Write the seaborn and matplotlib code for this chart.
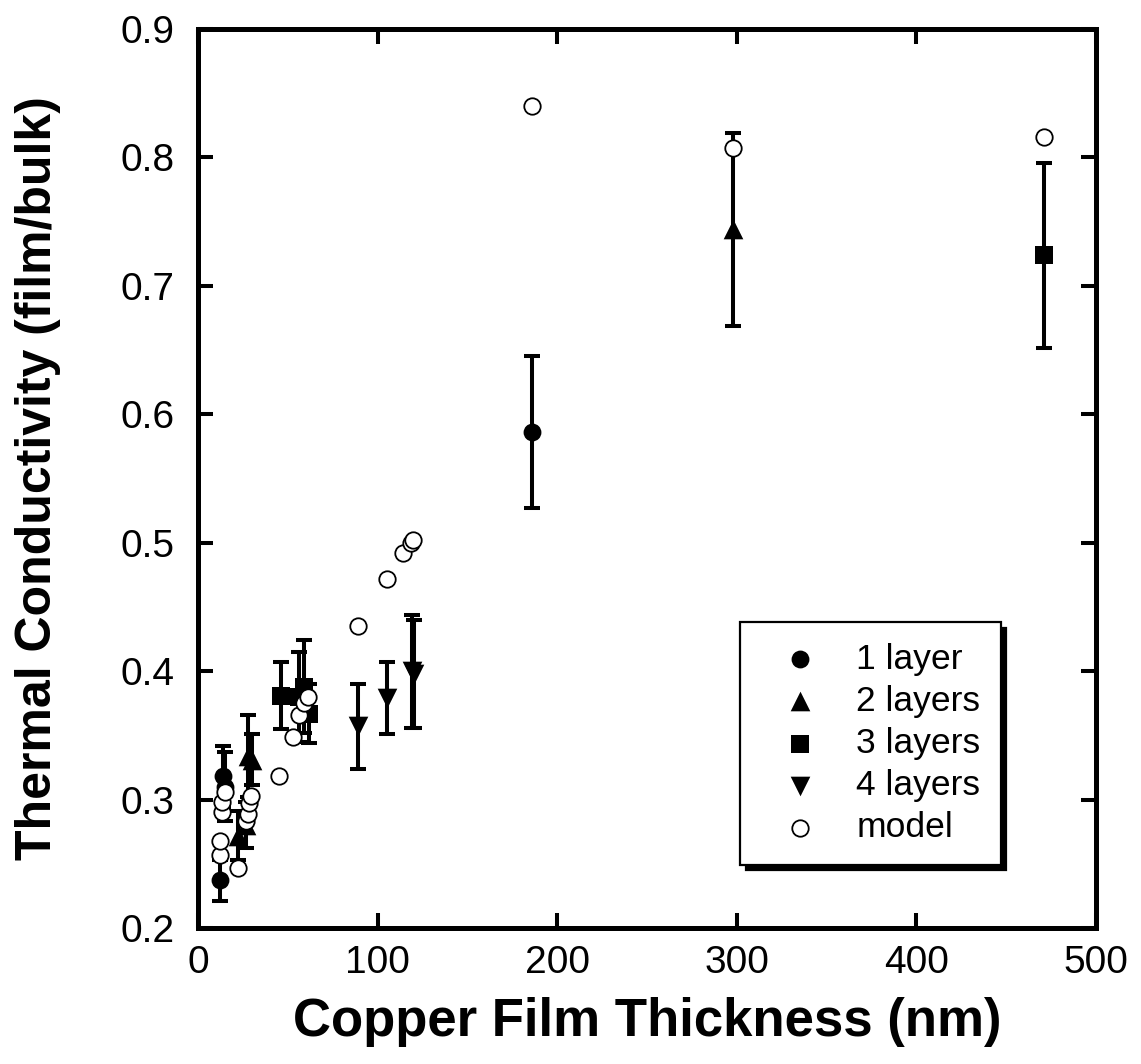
import matplotlib
matplotlib.use("Agg")
import matplotlib.pyplot as plt
import seaborn as sns
import pandas as pd

# Measured thermal conductivity (film/bulk) vs copper film thickness, with error bars
layer1_x = [12, 14, 15, 186]
layer1_y = [0.237, 0.318, 0.310, 0.586]
layer1_err = [0.016, 0.024, 0.027, 0.059]

layer2_x = [22, 27, 28, 30, 298]
layer2_y = [0.272, 0.280, 0.334, 0.331, 0.744]
layer2_err = [0.019, 0.018, 0.032, 0.020, 0.075]

layer3_x = [46, 56, 59, 62, 471]
layer3_y = [0.381, 0.380, 0.388, 0.367, 0.724]
layer3_err = [0.026, 0.035, 0.036, 0.023, 0.072]

layer4_x = [89, 105, 119, 120]
layer4_y = [0.357, 0.379, 0.400, 0.398]
layer4_err = [0.033, 0.028, 0.044, 0.042]

# Model predictions
model_x = [12, 12.5, 13.5, 13.5, 15, 22.5, 27, 27.7, 28.6, 29.5, 45, 53, 56, 59, 61,
           89, 105, 114, 118.5, 119.5, 186, 298, 471]
model_y = [0.257, 0.268, 0.290, 0.298, 0.306, 0.247, 0.283, 0.289, 0.297, 0.303, 0.318,
           0.349, 0.366, 0.375, 0.380, 0.435, 0.472, 0.492, 0.500, 0.502, 0.840, 0.807, 0.816]

x_ticks = [0, 100, 200, 300, 400, 500]
y_ticks = [0.2, 0.3, 0.4, 0.5, 0.6, 0.7, 0.8, 0.9]

sns.set_theme(style="ticks")
plt.rcParams["font.family"] = ["Liberation Sans", "DejaVu Sans"]
plt.rcParams["text.color"] = "black"
plt.rcParams["axes.labelcolor"] = "black"

fig = plt.figure(figsize=(11.41, 10.64), dpi=100)
ax = fig.add_axes([198 / 1141, 1 - 928 / 1064, 898 / 1141, 899 / 1064])

series = [
    ("1 layer", layer1_x, layer1_y, layer1_err, "o", 165),
    ("2 layers", layer2_x, layer2_y, layer2_err, "^", 200),
    ("3 layers", layer3_x, layer3_y, layer3_err, "s", 150),
    ("4 layers", layer4_x, layer4_y, layer4_err, "v", 200),
]

for label, xs, ys, es, mk, sz in series:
    ax.errorbar(xs, ys, yerr=es, fmt="none", ecolor="black", elinewidth=2.9,
                capsize=5.5, capthick=2.9, zorder=2)
    df = pd.DataFrame({"x": xs, "y": ys})
    sns.scatterplot(data=df, x="x", y="y", marker=mk, s=sz, color="black",
                    edgecolor="black", linewidth=0, label=label, ax=ax, zorder=3)

model_df = pd.DataFrame({"x": model_x, "y": model_y})
sns.scatterplot(data=model_df, x="x", y="y", marker="o", s=140, color="white",
                edgecolor="black", linewidth=1.3, label="model", ax=ax, zorder=4)

ax.set_xlim(0, 500)
ax.set_ylim(0.2, 0.9)
ax.set_xticks(x_ticks)
ax.set_yticks(y_ticks)
ax.set_xticklabels([str(t) for t in x_ticks])
ax.set_yticklabels([f"{t:.1f}" for t in y_ticks])
ax.tick_params(direction="in", length=11, width=2.9, labelsize=28,
               top=True, right=True, colors="black", labelcolor="black")
ax.tick_params(axis="x", pad=12)
ax.tick_params(axis="y", pad=17)
for sp in ax.spines.values():
    sp.set_linewidth(3.6)
    sp.set_color("black")

ax.set_xlabel("Copper Film Thickness (nm)", fontsize=38, fontweight="bold",
              labelpad=12, color="black")
ax.set_ylabel("Thermal Conductivity (film/bulk)", fontsize=36, fontweight="bold",
              labelpad=43, color="black")

leg = ax.legend(loc="upper left", bbox_to_anchor=(0.6036, 0.3404), fontsize=25.5,
                frameon=True, fancybox=False, edgecolor="black", framealpha=1,
                borderpad=0.58, labelspacing=0.26, handletextpad=0.47, handlelength=2.23,
                borderaxespad=0,
                shadow={"ox": 4, "oy": -4, "color": "black", "alpha": 1})
leg.get_frame().set_linewidth(1.6)
for t in leg.get_texts():
    t.set_color("black")

fig.savefig("out.png", dpi=100, facecolor="white")
